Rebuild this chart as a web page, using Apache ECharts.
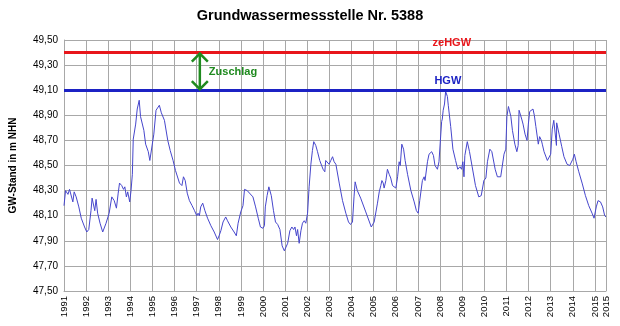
<!DOCTYPE html>
<html>
<head>
<meta charset="utf-8">
<script src="https://cdn.jsdelivr.net/npm/echarts@6/dist/echarts.min.js"></script>
<style>
  html, body { margin: 0; padding: 0; background: #fff; }
  #chart { width: 620px; height: 326px; }
</style>
</head>
<body>
<div id="chart"></div>
<script>
var years = [
  1991.00, 1991.07, 1991.18, 1991.25, 1991.34, 1991.40, 1991.46, 1991.55, 1991.67, 1991.78,
  1991.93, 1992.03, 1992.12, 1992.22, 1992.27, 1992.34, 1992.39, 1992.45, 1992.52, 1992.63,
  1992.75, 1992.90, 1993.04, 1993.16, 1993.27, 1993.37, 1993.45, 1993.51, 1993.61, 1993.69,
  1993.75, 1993.82, 1993.88, 1993.97, 1994.03, 1994.09, 1994.13, 1994.24, 1994.31, 1994.40,
  1994.46, 1994.51, 1994.61, 1994.69, 1994.81, 1994.88, 1994.96, 1995.06, 1995.16, 1995.22,
  1995.31, 1995.40, 1995.54, 1995.69, 1995.80, 1995.93, 1996.04, 1996.12, 1996.22, 1996.33,
  1996.40, 1996.48, 1996.57, 1996.67, 1996.79, 1996.90, 1997.00, 1997.06, 1997.12, 1997.18,
  1997.27, 1997.37, 1997.49, 1997.64, 1997.79, 1997.94, 1998.01, 1998.09, 1998.19, 1998.31,
  1998.39, 1998.54, 1998.69, 1998.79, 1998.87, 1998.99, 1999.09, 1999.16, 1999.28, 1999.54,
  1999.66, 1999.78, 1999.88, 1999.99, 2000.06, 2000.10, 2000.18, 2000.26, 2000.37, 2000.47,
  2000.56, 2000.66, 2000.76, 2000.86, 2000.96, 2001.03, 2001.11, 2001.21, 2001.30, 2001.38,
  2001.44, 2001.51, 2001.56, 2001.63, 2001.71, 2001.78, 2001.86, 2001.93, 2002.01, 2002.08,
  2002.16, 2002.23, 2002.29, 2002.38, 2002.46, 2002.56, 2002.65, 2002.71, 2002.79, 2002.83,
  2002.91, 2002.98, 2003.06, 2003.14, 2003.21, 2003.29, 2003.44, 2003.59, 2003.74, 2003.86,
  2003.95, 2004.04, 2004.11, 2004.16, 2004.26, 2004.41, 2004.64, 2004.89, 2005.02, 2005.17,
  2005.25, 2005.32, 2005.37, 2005.43, 2005.47, 2005.55, 2005.62, 2005.70, 2005.77, 2005.85,
  2005.92, 2006.00, 2006.08, 2006.15, 2006.20, 2006.27, 2006.35, 2006.42, 2006.53, 2006.68,
  2006.83, 2006.93, 2007.01, 2007.08, 2007.20, 2007.28, 2007.32, 2007.43, 2007.50, 2007.62,
  2007.70, 2007.77, 2007.88, 2007.95, 2008.03, 2008.07, 2008.10, 2008.14, 2008.20, 2008.25,
  2008.33, 2008.37, 2008.48, 2008.58, 2008.70, 2008.80, 2008.90, 2008.97, 2009.03, 2009.08,
  2009.12, 2009.23, 2009.33, 2009.45, 2009.60, 2009.75, 2009.86, 2009.98, 2010.07, 2010.14,
  2010.25, 2010.34, 2010.40, 2010.49, 2010.59, 2010.67, 2010.74, 2010.82, 2010.89, 2010.97,
  2011.02, 2011.09, 2011.12, 2011.20, 2011.27, 2011.38, 2011.47, 2011.53, 2011.57, 2011.62,
  2011.69, 2011.75, 2011.84, 2011.93, 2011.99, 2012.05, 2012.13, 2012.20, 2012.26, 2012.33,
  2012.44, 2012.50, 2012.58, 2012.62, 2012.70, 2012.85, 2012.92, 2013.00, 2013.07, 2013.14,
  2013.23, 2013.26, 2013.27, 2013.38, 2013.50, 2013.60, 2013.74, 2013.86, 2013.92, 2014.00,
  2014.07, 2014.15, 2014.27, 2014.42, 2014.57, 2014.72, 2014.87, 2014.96, 2015.06, 2015.14,
  2015.25, 2015.35, 2015.44, 2015.50
];
var levels = [
  48.18, 48.30, 48.27, 48.31, 48.32, 48.21, 48.29, 48.25, 48.17, 48.08,
  48.01, 47.97, 47.99, 48.14, 48.24, 48.23, 48.14, 48.23, 48.12, 48.04,
  47.97, 48.04, 48.12, 48.25, 48.22, 48.16, 48.28, 48.36, 48.34, 48.31,
  48.33, 48.25, 48.29, 48.21, 48.30, 48.43, 48.71, 48.83, 48.95, 49.02,
  48.89, 48.90, 48.78, 48.67, 48.61, 48.54, 48.55, 48.75, 48.94, 48.93,
  48.98, 48.92, 48.86, 48.70, 48.62, 48.54, 48.46, 48.47, 48.36, 48.34,
  48.41, 48.38, 48.28, 48.22, 48.18, 48.14, 48.10, 48.12, 48.10, 48.17,
  48.20, 48.14, 48.08, 48.02, 47.97, 47.91, 47.94, 47.98, 48.05, 48.09,
  48.06, 48.01, 47.97, 47.94, 48.04, 48.13, 48.18, 48.31, 48.30, 48.25,
  48.17, 48.08, 48.01, 48.00, 48.02, 48.17, 48.26, 48.33, 48.26, 48.14,
  48.05, 48.03, 47.99, 47.86, 47.82, 47.81, 47.88, 47.98, 48.01, 47.99,
  48.01, 47.94, 47.99, 47.88, 47.98, 48.04, 48.06, 48.04, 48.12, 48.33,
  48.51, 48.62, 48.69, 48.66, 48.61, 48.54, 48.53, 48.47, 48.45, 48.54,
  48.53, 48.51, 48.54, 48.57, 48.53, 48.51, 48.36, 48.22, 48.12, 48.05,
  48.03, 48.05, 48.25, 48.37, 48.30, 48.24, 48.13, 48.01, 48.05, 48.20,
  48.29, 48.34, 48.38, 48.36, 48.32, 48.38, 48.47, 48.43, 48.40, 48.34,
  48.33, 48.32, 48.41, 48.53, 48.50, 48.67, 48.63, 48.54, 48.43, 48.30,
  48.21, 48.14, 48.12, 48.22, 48.38, 48.41, 48.38, 48.53, 48.59, 48.61,
  48.58, 48.50, 48.47, 48.53, 48.54, 48.85, 48.87, 48.94, 48.99, 49.09,
  49.05, 48.98, 48.81, 48.63, 48.54, 48.47, 48.49, 48.47, 48.53, 48.41,
  48.58, 48.69, 48.61, 48.49, 48.34, 48.25, 48.26, 48.38, 48.40, 48.53,
  48.63, 48.61, 48.61, 48.47, 48.41, 48.40, 48.41, 48.40, 48.59, 48.63,
  48.89, 48.97, 48.98, 48.89, 48.78, 48.67, 48.61, 48.66, 48.94, 48.95,
  48.87, 48.83, 48.75, 48.70, 48.83, 48.93, 48.94, 48.95, 48.90, 48.81,
  48.67, 48.73, 48.70, 48.67, 48.61, 48.54, 48.53, 48.59, 48.79, 48.86,
  48.85, 48.66, 48.84, 48.75, 48.65, 48.57, 48.51, 48.50, 48.51, 48.55,
  48.59, 48.53, 48.45, 48.36, 48.26, 48.18, 48.12, 48.08, 48.17, 48.22,
  48.21, 48.17, 48.10, 48.09
];

var hgw = 49.10;      // HGW
var zeHgw = 49.40;    // zeHGW
var yearStart = 1991;
var yearEnd = 2015.5;
var levelMin = 47.5;
var levelMax = 49.5;
var arrowYear = 1997.14;   // Lage des Zuschlag-Pfeils
var hgwLabelYear = 2008.35;
var zeHgwLabelYear = 2008.53;

var font = 'Liberation Sans, Arial, sans-serif';
var gridColor = '#a8a8a8';

var myChart = echarts.init(document.getElementById('chart'));

var option = {
    animation: false,
    backgroundColor: '#ffffff',
    title: {
        text: 'Grundwassermessstelle Nr. 5388',
        left: 'center',
        top: 3,
        textStyle: { fontFamily: font, fontSize: 14.5, fontWeight: 'bold', color: '#000' }
    },
    grid: { left: 62, right: 14, top: 40, bottom: 35 },
    xAxis: {
        type: 'value',
        min: yearStart,
        max: yearEnd,
        interval: 1,
        axisLine: { show: true, lineStyle: { color: gridColor, width: 1 } },
        axisTick: { show: false },
        axisLabel: {
            rotate: 90,
            margin: 5,
            fontFamily: font,
            fontSize: 9.5,
            color: '#000',
            formatter: function (v) { return String(Math.floor(v + 1e-6)); }
        },
        splitLine: { show: true, lineStyle: { color: gridColor, width: 1 } }
    },
    yAxis: {
        type: 'value',
        min: levelMin,
        max: levelMax,
        interval: 0.2,
        name: 'GW-Stand in m NHN',
        nameLocation: 'middle',
        nameGap: 46,
        nameTextStyle: { fontFamily: font, fontSize: 10, fontWeight: 'bold', color: '#000' },
        axisLine: { show: true, lineStyle: { color: gridColor, width: 1 } },
        axisTick: { show: false },
        axisLabel: {
            margin: 6,
            fontFamily: font,
            fontSize: 10,
            color: '#000',
            formatter: function (v) { return v.toFixed(2).replace('.', ','); }
        },
        splitLine: { show: true, lineStyle: { color: gridColor, width: 1 } }
    },
    series: [
        {
            type: 'line',
            data: years.map(function (y, i) { return [y, levels[i]]; }),
            showSymbol: false,
            lineStyle: { color: '#4646cc', width: 1 },
            z: 3,
            markLine: {
                silent: true,
                symbol: 'none',
                label: { show: false },
                data: [
                    { yAxis: zeHgw, lineStyle: { color: '#e8161b', width: 3, type: 'solid' } },
                    { yAxis: hgw, lineStyle: { color: '#1c22c4', width: 3, type: 'solid' } }
                ]
            },
            markPoint: {
                silent: true,
                symbol: 'circle',
                symbolSize: 0,
                data: [
                    {
                        coord: [zeHgwLabelYear, zeHgw],
                        label: { show: true, position: 'top', distance: 4, formatter: 'zeHGW',
                            fontFamily: font, fontSize: 11, fontWeight: 'bold', color: '#e8161b' }
                    },
                    {
                        coord: [hgwLabelYear, hgw],
                        label: { show: true, position: 'top', distance: 4, formatter: 'HGW',
                            fontFamily: font, fontSize: 11, fontWeight: 'bold', color: '#1c22c4' }
                    }
                ]
            }
        },
        {
            // Doppelpfeil "Zuschlag" zwischen HGW und zeHGW
            type: 'custom',
            clip: false,
            z: 5,
            data: [[arrowYear, zeHgw]],
            renderItem: function (params, api) {
                var top = api.coord([api.value(0), zeHgw]);
                var bot = api.coord([api.value(0), hgw]);
                var green = '#1f8a1f';
                var w = 8, h = 9;
                var st = { stroke: green, lineWidth: 2.5, fill: null };
                return {
                    type: 'group',
                    children: [
                        { type: 'line', shape: { x1: top[0], y1: top[1] + 1, x2: bot[0], y2: bot[1] - 1 }, style: st },
                        { type: 'polyline', shape: { points: [[top[0] - w, top[1] + h], [top[0], top[1] + 1], [top[0] + w, top[1] + h]] }, style: st },
                        { type: 'polyline', shape: { points: [[bot[0] - w, bot[1] - h], [bot[0], bot[1] - 1], [bot[0] + w, bot[1] - h]] }, style: st },
                        {
                            type: 'text',
                            x: top[0] + 9,
                            y: (top[1] + bot[1]) / 2 + 1,
                            style: {
                                text: 'Zuschlag',
                                fill: green,
                                font: 'bold 11px ' + font,
                                textAlign: 'left',
                                textVerticalAlign: 'middle'
                            }
                        }
                    ]
                };
            }
        }
    ]
};

myChart.setOption(option);
</script>
</body>
</html>
